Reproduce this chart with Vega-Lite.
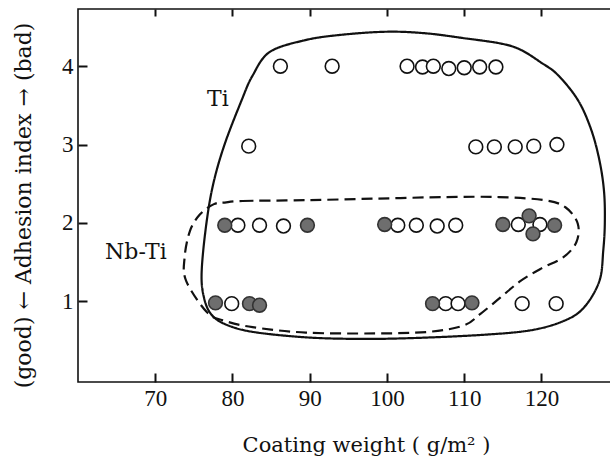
{
  "$schema": "https://vega.github.io/schema/vega-lite/v6.json",
  "width": 533,
  "height": 373,
  "autosize": {"type": "none"},
  "padding": {"left": 78, "top": 9, "right": 0, "bottom": 74},
  "background": "white",
  "config": {
    "view": {"stroke": "#111", "strokeWidth": 1.6}
  },
  "resolve": {"axis": {"x": "independent"}},
  "datasets": {
    "curves": [
      {"curve": "Ti", "order": 1, "x": 84.8, "y": 4.18},
      {"curve": "Ti", "order": 2, "x": 89.3, "y": 4.33},
      {"curve": "Ti", "order": 3, "x": 94.0, "y": 4.40},
      {"curve": "Ti", "order": 4, "x": 100.0, "y": 4.44},
      {"curve": "Ti", "order": 5, "x": 105.0, "y": 4.42},
      {"curve": "Ti", "order": 6, "x": 109.8, "y": 4.36},
      {"curve": "Ti", "order": 7, "x": 114.7, "y": 4.29},
      {"curve": "Ti", "order": 8, "x": 117.3, "y": 4.21},
      {"curve": "Ti", "order": 9, "x": 119.9, "y": 4.05},
      {"curve": "Ti", "order": 10, "x": 122.1, "y": 3.89},
      {"curve": "Ti", "order": 11, "x": 124.7, "y": 3.57},
      {"curve": "Ti", "order": 12, "x": 126.4, "y": 3.2},
      {"curve": "Ti", "order": 13, "x": 127.5, "y": 2.8},
      {"curve": "Ti", "order": 14, "x": 128.1, "y": 2.4},
      {"curve": "Ti", "order": 15, "x": 128.2, "y": 2.0},
      {"curve": "Ti", "order": 16, "x": 128.0, "y": 1.65},
      {"curve": "Ti", "order": 17, "x": 127.5, "y": 1.26},
      {"curve": "Ti", "order": 18, "x": 125.5, "y": 0.92},
      {"curve": "Ti", "order": 19, "x": 122.9, "y": 0.75},
      {"curve": "Ti", "order": 20, "x": 118.6, "y": 0.63},
      {"curve": "Ti", "order": 21, "x": 112.1, "y": 0.57},
      {"curve": "Ti", "order": 22, "x": 103.1, "y": 0.53},
      {"curve": "Ti", "order": 23, "x": 96.3, "y": 0.52},
      {"curve": "Ti", "order": 24, "x": 89.5, "y": 0.54},
      {"curve": "Ti", "order": 25, "x": 82.6, "y": 0.61},
      {"curve": "Ti", "order": 26, "x": 79.0, "y": 0.71},
      {"curve": "Ti", "order": 27, "x": 77.2, "y": 0.84},
      {"curve": "Ti", "order": 28, "x": 76.3, "y": 1.05},
      {"curve": "Ti", "order": 29, "x": 76.0, "y": 1.35},
      {"curve": "Ti", "order": 30, "x": 76.5, "y": 1.90},
      {"curve": "Ti", "order": 31, "x": 77.4, "y": 2.45},
      {"curve": "Ti", "order": 32, "x": 78.9, "y": 2.98},
      {"curve": "Ti", "order": 33, "x": 81.2, "y": 3.57},
      {"curve": "Ti", "order": 34, "x": 82.6, "y": 3.88},
      {"curve": "Nb-Ti", "order": 1, "x": 79.0, "y": 2.26},
      {"curve": "Nb-Ti", "order": 2, "x": 81.3, "y": 2.28},
      {"curve": "Nb-Ti", "order": 3, "x": 89.5, "y": 2.29},
      {"curve": "Nb-Ti", "order": 4, "x": 98.5, "y": 2.31},
      {"curve": "Nb-Ti", "order": 5, "x": 107.6, "y": 2.33},
      {"curve": "Nb-Ti", "order": 6, "x": 114.5, "y": 2.33},
      {"curve": "Nb-Ti", "order": 7, "x": 120.4, "y": 2.29},
      {"curve": "Nb-Ti", "order": 8, "x": 123.1, "y": 2.20},
      {"curve": "Nb-Ti", "order": 9, "x": 124.7, "y": 1.99},
      {"curve": "Nb-Ti", "order": 10, "x": 124.5, "y": 1.75},
      {"curve": "Nb-Ti", "order": 11, "x": 122.8, "y": 1.56},
      {"curve": "Nb-Ti", "order": 12, "x": 120.0, "y": 1.42},
      {"curve": "Nb-Ti", "order": 13, "x": 117.3, "y": 1.26},
      {"curve": "Nb-Ti", "order": 14, "x": 114.7, "y": 1.05},
      {"curve": "Nb-Ti", "order": 15, "x": 112.1, "y": 0.84},
      {"curve": "Nb-Ti", "order": 16, "x": 109.9, "y": 0.69},
      {"curve": "Nb-Ti", "order": 17, "x": 105.4, "y": 0.61},
      {"curve": "Nb-Ti", "order": 18, "x": 98.5, "y": 0.59},
      {"curve": "Nb-Ti", "order": 19, "x": 89.5, "y": 0.60},
      {"curve": "Nb-Ti", "order": 20, "x": 82.6, "y": 0.67},
      {"curve": "Nb-Ti", "order": 21, "x": 79.0, "y": 0.75},
      {"curve": "Nb-Ti", "order": 22, "x": 76.7, "y": 0.86},
      {"curve": "Nb-Ti", "order": 23, "x": 74.0, "y": 1.26},
      {"curve": "Nb-Ti", "order": 24, "x": 73.8, "y": 1.56},
      {"curve": "Nb-Ti", "order": 25, "x": 74.5, "y": 1.90},
      {"curve": "Nb-Ti", "order": 26, "x": 75.8, "y": 2.11},
      {"curve": "Nb-Ti", "order": 27, "x": 77.6, "y": 2.24}
    ],
    "points": [
      {"type": "Ti", "x": 86.2, "y": 4.0},
      {"type": "Ti", "x": 92.9, "y": 4.0},
      {"type": "Ti", "x": 102.6, "y": 4.0},
      {"type": "Ti", "x": 104.6, "y": 3.99},
      {"type": "Ti", "x": 106.0, "y": 4.0},
      {"type": "Ti", "x": 108.0, "y": 3.97},
      {"type": "Ti", "x": 110.0, "y": 3.98},
      {"type": "Ti", "x": 112.0, "y": 3.99},
      {"type": "Ti", "x": 114.1, "y": 3.99},
      {"type": "Ti", "x": 82.1, "y": 2.98},
      {"type": "Ti", "x": 111.5, "y": 2.97},
      {"type": "Ti", "x": 113.9, "y": 2.97},
      {"type": "Ti", "x": 116.6, "y": 2.97},
      {"type": "Ti", "x": 119.0, "y": 2.98},
      {"type": "Ti", "x": 122.0, "y": 3.0},
      {"type": "Ti", "x": 80.7, "y": 1.97},
      {"type": "Ti", "x": 83.5, "y": 1.97},
      {"type": "Ti", "x": 86.6, "y": 1.96},
      {"type": "Ti", "x": 101.4, "y": 1.97},
      {"type": "Ti", "x": 103.8, "y": 1.97},
      {"type": "Ti", "x": 106.5, "y": 1.96},
      {"type": "Ti", "x": 108.9, "y": 1.97},
      {"type": "Ti", "x": 117.0, "y": 1.98},
      {"type": "Ti", "x": 119.8, "y": 1.98},
      {"type": "Ti", "x": 79.9, "y": 0.97},
      {"type": "Ti", "x": 107.6, "y": 0.97},
      {"type": "Ti", "x": 109.2, "y": 0.97},
      {"type": "Ti", "x": 117.5, "y": 0.97},
      {"type": "Ti", "x": 121.9, "y": 0.97},
      {"type": "Nb-Ti", "x": 79.0, "y": 1.97},
      {"type": "Nb-Ti", "x": 89.7, "y": 1.97},
      {"type": "Nb-Ti", "x": 99.7, "y": 1.98},
      {"type": "Nb-Ti", "x": 115.0, "y": 1.98},
      {"type": "Nb-Ti", "x": 118.4, "y": 2.09},
      {"type": "Nb-Ti", "x": 118.9, "y": 1.86},
      {"type": "Nb-Ti", "x": 121.7, "y": 1.97},
      {"type": "Nb-Ti", "x": 77.8, "y": 0.98},
      {"type": "Nb-Ti", "x": 82.2, "y": 0.97},
      {"type": "Nb-Ti", "x": 83.5, "y": 0.95},
      {"type": "Nb-Ti", "x": 105.9, "y": 0.97},
      {"type": "Nb-Ti", "x": 111.0, "y": 0.98}
    ],
    "labels": [
      {"label": "Ti", "x": 78.1, "y": 3.58},
      {"label": "Nb-Ti", "x": 67.5, "y": 1.63}
    ]
  },
  "layer": [
    {
      "data": {"name": "curves"},
      "mark": {"type": "line", "interpolate": "cardinal-closed", "strokeWidth": 2.2, "color": "#111"},
      "encoding": {
        "x": {
          "field": "x", "type": "quantitative",
          "scale": {"domain": [60, 129], "nice": false, "zero": false},
          "axis": {
            "orient": "bottom",
            "zindex": 1,
            "values": [70, 80, 90, 100, 110, 120],
            "grid": false,
            "domain": false,
            "ticks": true,
            "tickSize": -9,
            "tickColor": "#111",
            "tickWidth": 2,
            "labelPadding": 14,
            "labelColor": "#111",
            "labelFont": "Liberation Serif",
            "labelFontSize": 23,
            "title": "Coating weight  (  g/m²  )",
            "titleFont": "DejaVu Serif",
            "titleFontSize": 21,
            "titleFontWeight": "normal",
            "titleColor": "#111",
            "titleX": 288,
            "titleY": 63,
            "titleAlign": "center",
            "titleBaseline": "middle"
          }
        },
        "y": {
          "field": "y", "type": "quantitative",
          "scale": {"domain": [-0.03, 4.73], "nice": false, "zero": false},
          "axis": {
            "zindex": 1,
            "values": [1, 2, 3, 4],
            "format": "d",
            "grid": false,
            "domain": false,
            "ticks": true,
            "tickSize": -9,
            "tickColor": "#111",
            "tickWidth": 2,
            "labelPadding": 14,
            "labelColor": "#111",
            "labelFont": "Liberation Serif",
            "labelFontSize": 23,
            "title": "(good) ← Adhesion  index → (bad)",
            "titleFont": "DejaVu Serif",
            "titleFontSize": 22,
            "titleFontWeight": "normal",
            "titleColor": "#111",
            "titleX": -55,
            "titleY": 196,
            "titleAlign": "center",
            "titleBaseline": "middle"
          }
        },
        "order": {"field": "order", "type": "quantitative"},
        "detail": {"field": "curve", "type": "nominal"},
        "strokeDash": {
          "field": "curve", "type": "nominal",
          "scale": {"domain": ["Ti", "Nb-Ti"], "range": [[1, 0], [11, 6]]},
          "legend": null
        }
      }
    },
    {
      "data": {"name": "points"},
      "mark": {"type": "point", "shape": "circle", "size": 190, "strokeWidth": 1.6, "opacity": 1, "filled": false},
      "encoding": {
        "x": {"field": "x", "type": "quantitative", "axis": null},
        "y": {"field": "y", "type": "quantitative"},
        "fill": {
          "field": "type", "type": "nominal",
          "scale": {"domain": ["Ti", "Nb-Ti"], "range": ["#ffffff", "#6e6e6e"]},
          "legend": null
        },
        "stroke": {
          "field": "type", "type": "nominal",
          "scale": {"domain": ["Ti", "Nb-Ti"], "range": ["#111111", "#333333"]},
          "legend": null
        },
        "fillOpacity": {"value": 1}
      }
    },
    {
      "data": {"name": "labels"},
      "mark": {"type": "text", "font": "DejaVu Serif", "fontSize": 22, "color": "#111", "align": "center", "baseline": "middle"},
      "encoding": {
        "x": {
          "field": "x", "type": "quantitative",
          "axis": {
            "orient": "top",
            "zindex": 1,
            "values": [70, 80, 90, 100, 110, 120],
            "grid": false,
            "domain": false,
            "ticks": true,
            "tickSize": -7,
            "tickColor": "#111",
            "tickWidth": 2,
            "labels": false,
            "title": null
          }
        },
        "y": {"field": "y", "type": "quantitative"},
        "text": {"field": "label", "type": "nominal"}
      }
    }
  ]
}
